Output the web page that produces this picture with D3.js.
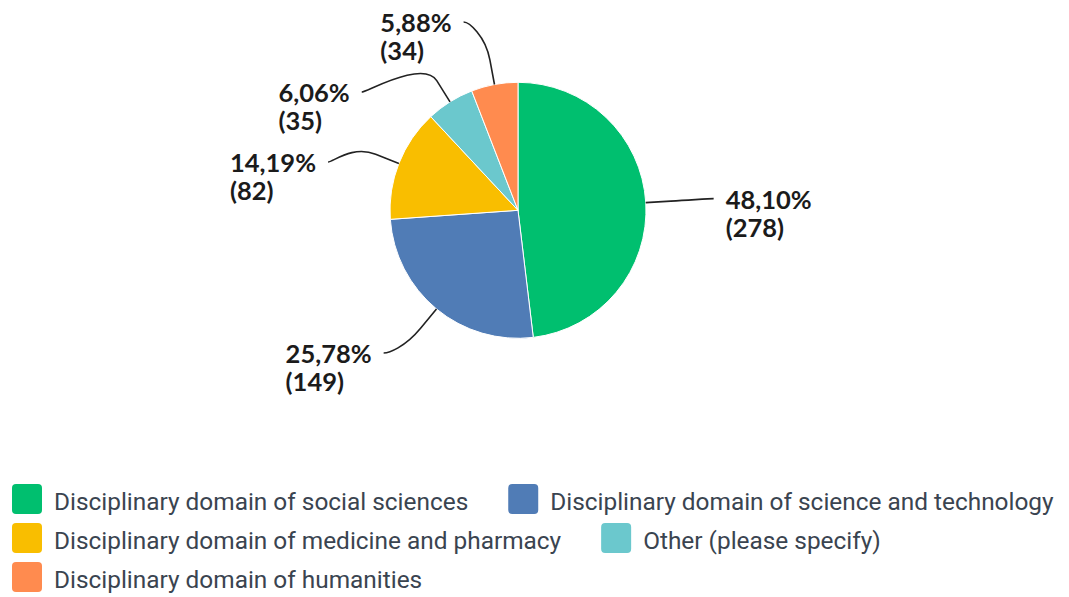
<!DOCTYPE html>
<html>
<head>
<meta charset="utf-8">
<script src="https://cdn.jsdelivr.net/npm/d3@7"></script>
<style>
  html, body { margin: 0; padding: 0; background: #fff; }
  svg { display: block; }
</style>
</head>
<body>
<svg id="chart" width="1069" height="597"></svg>
<script>
const categories = [
  "Disciplinary domain of social sciences",
  "Disciplinary domain of science and technology",
  "Disciplinary domain of medicine and pharmacy",
  "Other (please specify)",
  "Disciplinary domain of humanities"
];
const counts = [278, 149, 82, 35, 34];
const colors = ["#00BF6F", "#507CB6", "#F9BE00", "#6BC8CD", "#FF8B4F"];

const W = 1069, H = 597;
const cx = 518, cy = 210.3, r = 128;
const labelR = 196, breakR = r + 25;
const minGap = 70, yMin = 22, yMax = 353;

const svg = d3.select("#chart");
const total = d3.sum(counts);
const fmtPct = v => d3.format(".2f")(v * 100).replace(".", ",") + "%";

const pie = d3.pie().sort(null).value(d => d);
const arcs = pie(counts);
const arcGen = d3.arc().innerRadius(0).outerRadius(r);
const color = d3.scaleOrdinal().domain(d3.range(counts.length)).range(colors);

const g = svg.append("g").attr("transform", `translate(${cx},${cy})`);
g.selectAll("path.slice").data(arcs).join("path")
  .attr("class", "slice")
  .attr("d", arcGen)
  .attr("fill", (d, i) => color(i))
  .attr("stroke", "#fff")
  .attr("stroke-width", 1)
  .attr("stroke-linejoin", "round");

// label layout
const labels = arcs.map((a, i) => {
  const mid = (a.startAngle + a.endAngle) / 2;
  const sx = Math.sin(mid), cyy = -Math.cos(mid);
  return {
    i, mid,
    side: sx >= 0 ? 1 : -1,
    S: [cx + r * sx, cy + r * cyy],
    B: [cx + breakR * sx, cy + breakR * cyy],
    target: cy + labelR * cyy,
    pct: fmtPct(a.data / total),
    cnt: "(" + a.data + ")"
  };
});

function distribute(items) {
  items.sort((a, b) => a.target - b.target);
  let groups = items.map(it => ({ items: [it], mean: it.target }));
  const place = grp => {
    const n = grp.items.length;
    let start = grp.mean - (n - 1) * minGap / 2;
    start = Math.max(yMin, Math.min(yMax - (n - 1) * minGap, start));
    grp.start = start;
  };
  let changed = true;
  while (changed) {
    changed = false;
    groups.forEach(place);
    for (let k = 0; k < groups.length - 1; k++) {
      const a = groups[k], b = groups[k + 1];
      const aEnd = a.start + (a.items.length - 1) * minGap;
      if (b.start - aEnd < minGap) {
        const merged = a.items.concat(b.items);
        groups.splice(k, 2, { items: merged, mean: d3.mean(merged, d => d.target) });
        changed = true;
        break;
      }
    }
  }
  groups.forEach(place);
  groups.forEach(grp => grp.items.forEach((it, j) => { it.y = grp.start + j * minGap; }));
}
distribute(labels.filter(l => l.side < 0));
distribute(labels.filter(l => l.side > 0));
labels.forEach(l => {
  const dy = l.y - cy;
  const dx = Math.sqrt(Math.max(0, labelR * labelR - dy * dy));
  // labels near the top/bottom of the circle stay a bit closer to the pie's vertical axis
  l.x = cx + l.side * Math.max(dx, 45);
});

const lineG = svg.append("g");
labels.forEach(l => {
  const p = d3.path();
  p.moveTo(l.x, l.y);
  p.bezierCurveTo(l.x - l.side * 5, l.y,
    2 * l.B[0] - l.S[0], 2 * l.B[1] - l.S[1],
    l.B[0], l.B[1]);
  p.lineTo(l.S[0], l.S[1]);
  lineG.append("path").attr("d", p.toString())
    .attr("fill", "none").attr("stroke", "#222").attr("stroke-width", 1.6);
});

const textG = svg.append("g")
  .style("font-family", "Lato, 'Noto Sans', sans-serif")
  .style("font-weight", "700")
  .style("font-size", "25.5px")
  .attr("fill", "#1b1b1b");
labels.forEach(l => {
  const t = textG.append("text");
  const t1 = t.append("tspan").text(l.pct);
  const t2 = t.append("tspan").text(l.cnt);
  const w = Math.max(t1.node().getComputedTextLength(), t2.node().getComputedTextLength());
  const x0 = l.side > 0 ? l.x + 12 : l.x - 12 - w;
  t1.attr("x", x0).attr("y", l.y + 10);
  t2.attr("x", x0).attr("y", l.y + 38);
});

// legend (flow layout)
const legG = svg.append("g")
  .style("font-family", "Roboto, sans-serif")
  .style("font-size", "24.4px")
  .attr("fill", "#3a4450");
const sw = 30, swGap = 12, itemGap = 40, rowH = 39, legX = 12, legTop = 484, maxW = W - 5;
let curX = legX, row = 0;
categories.forEach((c, i) => {
  const item = legG.append("g");
  const txt = item.append("text").text(c);
  const tw = txt.node().getComputedTextLength();
  const iw = sw + swGap + tw;
  if (curX > legX && curX + iw > maxW) { row += 1; curX = legX; }
  const top = legTop + row * rowH;
  item.append("rect")
    .attr("x", curX).attr("y", top).attr("width", sw).attr("height", sw)
    .attr("rx", 4).attr("fill", color(i));
  txt.attr("x", curX + sw + swGap).attr("y", top + sw / 2 + 11);
  curX += iw + itemGap;
});
</script>
</body>
</html>
